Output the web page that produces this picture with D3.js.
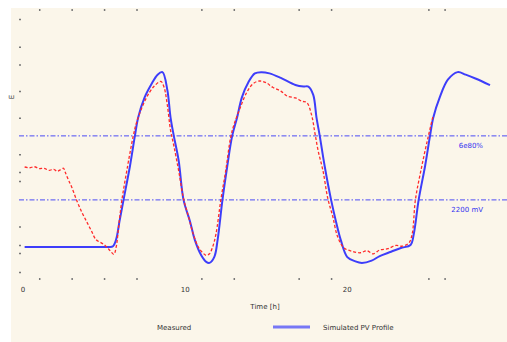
<!DOCTYPE html>
<html>
<head>
<meta charset="utf-8">
<script src="https://cdn.jsdelivr.net/npm/d3@7"></script>
<style>
  body { margin: 0; background: #fff; }
  svg { display: block; }
</style>
</head>
<body>
<div id="chart"></div>
<script>
// values (x in hours, y in %)
const simulated = [
  [0.1, 9.9], [1.5, 9.9], [3.0, 9.9], [4.5, 9.9], [5.3, 9.9], [5.55, 10.2], [5.75, 13], [5.95, 20],
  [6.2, 28.5], [6.6, 42], [6.9, 53.8], [7.1, 61],
  [7.5, 69], [7.9, 74], [8.3, 78], [8.6, 79], [8.9, 72], [9.1, 61], [9.3, 53.8], [9.6, 44],
  [9.9, 28.5], [10.3, 20], [10.6, 12.6], [11.0, 6.5], [11.3, 4], [11.5, 3.6], [11.8, 6], [12.0, 12.6],
  [12.3, 28.5], [12.6, 42], [12.9, 53.8], [13.2, 61], [13.5, 69], [13.9, 75], [14.3, 78.5], [14.7, 79],
  [15.2, 78.5], [15.9, 76.7], [16.8, 73.9], [17.3, 73.3], [17.6, 73.3], [17.9, 70], [18.1, 61], [18.3, 53.8],
  [18.6, 42], [19.0, 28.5], [19.3, 20], [19.6, 12.6], [20.0, 5.9], [20.5, 4.2], [20.9, 3.6], [21.5, 4.5],
  [22.0, 6.3], [22.7, 8], [23.3, 9.5], [23.9, 10.7], [24.1, 15], [24.4, 28.5], [24.8, 42], [25.1, 53.8],
  [25.3, 61], [25.7, 69], [26.2, 76], [26.8, 79], [27.3, 78], [27.9, 76.5], [28.8, 73.9]
];
const measured = [
  [0.1, 41.5], [0.4, 41.2], [0.7, 41.6], [1.0, 40.9], [1.3, 41.0], [1.6, 40.2], [1.9, 40.6], [2.1, 39.8],
  [2.3, 40.4], [2.5, 41.0], [2.6, 39.5], [2.8, 36.4], [3.0, 33.6], [3.3, 28.5], [3.6, 24], [3.9, 20.2],
  [4.2, 16.5], [4.5, 12.8], [4.8, 11.6], [5.0, 10.8], [5.2, 9.6], [5.4, 8.2], [5.6, 7.0], [5.75, 10],
  [5.9, 18], [6.1, 28.5], [6.4, 40], [6.8, 53.8], [7.0, 59], [7.4, 66], [7.8, 71], [8.1, 73.5],
  [8.5, 75.3], [8.7, 73], [8.9, 66], [9.1, 56], [9.3, 50], [9.6, 40], [9.9, 29], [10.2, 22],
  [10.5, 15], [10.8, 10], [11.1, 7.5], [11.3, 6.6], [11.5, 7.2], [11.7, 10], [11.9, 15], [12.2, 28.5],
  [12.5, 40], [12.8, 53], [13.0, 58], [13.4, 65], [13.8, 71], [14.2, 74.5], [14.6, 75.5], [15.0, 74.8],
  [15.4, 73], [15.9, 71.5], [16.3, 69.5], [16.8, 68.8], [17.2, 67.5], [17.5, 67], [17.8, 62], [18.0, 55],
  [18.2, 48], [18.5, 40], [18.8, 29], [19.1, 22], [19.4, 14], [19.8, 9.5], [20.3, 8.2], [20.8, 7.6],
  [21.2, 8.4], [21.6, 7.2], [22.0, 8.7], [22.5, 9.2], [23.0, 10.5], [23.4, 10.2], [23.8, 11.5], [24.0, 15],
  [24.2, 28.5], [24.6, 42], [25.0, 53.8], [25.3, 62]
];
const thresholds = [53.8, 28.5];
const thresholdLabels = ["6e80%", "2200 mV"];
const xTickMarks = [1, 3, 5, 7, 11, 13, 17, 19, 25, 26];
const xTickLabels = [0, 10, 20];
const yTickMarks = [100, 89, 82, 71.5, 61, 46.5, 39.5, 36, 18, 10.7, 7.5, 0];
const seriesNames = ["Measured", "Simulated PV Profile"];

const width = 507, height = 342;
const svg = d3.select("#chart").append("svg")
  .attr("width", width)
  .attr("height", height);

// cream panel
svg.append("rect")
  .attr("x", 11).attr("y", 8)
  .attr("width", width - 11).attr("height", height - 8)
  .attr("fill", "#fbf6ea");

const x = d3.scaleLinear().domain([0, 28.8]).range([23, 490]);
const y = d3.scaleLinear().domain([0, 100]).range([272, 19]);

const tickColor = "#777";
// top, bottom and left tick marks
svg.append("g")
  .attr("transform", "translate(0,11)")
  .call(d3.axisTop(x).tickValues(xTickMarks).tickSize(2).tickFormat(""))
  .call(g => g.select(".domain").remove());
svg.append("g")
  .attr("transform", "translate(0,278)")
  .call(d3.axisBottom(x).tickValues(xTickMarks).tickSize(2).tickFormat(""))
  .call(g => g.select(".domain").remove());
svg.append("g")
  .attr("transform", "translate(21,0)")
  .call(d3.axisLeft(y).tickValues(yTickMarks).tickSize(2).tickFormat(""))
  .call(g => g.select(".domain").remove());
svg.selectAll(".tick line").attr("stroke", tickColor).attr("stroke-width", 1.5);

// x labels
svg.append("g")
  .selectAll("text")
  .data(xTickLabels)
  .join("text")
  .attr("x", d => x(d))
  .attr("y", 292)
  .attr("text-anchor", "middle")
  .attr("font-family", "DejaVu Sans, sans-serif")
  .attr("font-size", 7)
  .attr("fill", "#333")
  .text(d => d);

svg.append("text")
  .attr("x", 265).attr("y", 309)
  .attr("text-anchor", "middle")
  .attr("font-family", "DejaVu Sans, sans-serif")
  .attr("font-size", 7)
  .attr("fill", "#333")
  .text("Time [h]");

svg.append("text")
  .attr("transform", "translate(14,97) rotate(-90)")
  .attr("text-anchor", "middle")
  .attr("font-family", "DejaVu Sans, sans-serif")
  .attr("font-size", 7)
  .attr("fill", "#333")
  .text("E");

// threshold lines
svg.append("g")
  .selectAll("line")
  .data(thresholds)
  .join("line")
  .attr("x1", 19).attr("x2", 507)
  .attr("y1", d => y(d)).attr("y2", d => y(d))
  .attr("stroke", "#4a4af5")
  .attr("stroke-width", 1)
  .attr("stroke-dasharray", "5,2,1.5,2");

svg.append("g")
  .selectAll("text")
  .data(thresholds)
  .join("text")
  .attr("x", 483)
  .attr("y", d => y(d) + 12)
  .attr("text-anchor", "end")
  .attr("font-family", "DejaVu Sans, sans-serif")
  .attr("font-size", 7)
  .attr("fill", "#3434f0")
  .text((d, i) => thresholdLabels[i]);

const line = d3.line()
  .x(d => x(d[0]))
  .y(d => y(d[1]))
  .curve(d3.curveCatmullRom.alpha(0.5));

svg.append("path")
  .datum(simulated)
  .attr("d", line)
  .attr("fill", "none")
  .attr("stroke", "#3d3dfa")
  .attr("stroke-width", 2);

svg.append("path")
  .datum(measured)
  .attr("d", line)
  .attr("fill", "none")
  .attr("stroke", "#ff2a2a")
  .attr("stroke-width", 1.3)
  .attr("stroke-dasharray", "3,2");

// legend
const legend = svg.append("g")
  .attr("font-family", "DejaVu Sans, sans-serif")
  .attr("font-size", 7)
  .attr("fill", "#333");
legend.append("text").attr("x", 157).attr("y", 330).text(seriesNames[0]);
legend.append("line")
  .attr("x1", 273).attr("x2", 310).attr("y1", 327).attr("y2", 327)
  .attr("stroke", "#7777f5").attr("stroke-width", 3);
legend.append("text").attr("x", 323).attr("y", 330).text(seriesNames[1]);
</script>
</body>
</html>
